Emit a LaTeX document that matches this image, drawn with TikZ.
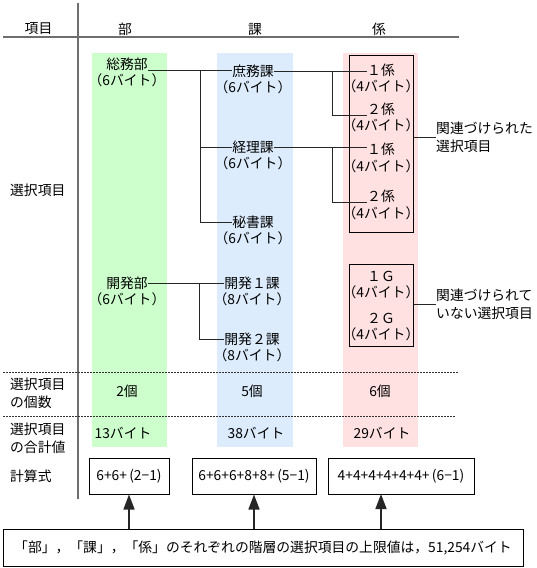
\documentclass[tikz,border=0pt]{standalone}
\usepackage{fontspec}
\setmainfont{Noto Sans CJK JP}
\usetikzlibrary{arrows.meta}
\definecolor{cgreen}{RGB}{204,255,204}
\definecolor{cblue}{RGB}{220,236,253}
\definecolor{cpink}{RGB}{255,225,225}
\definecolor{rulegray}{RGB}{110,110,110}
\begin{document}
\begin{tikzpicture}[x=1pt,y=-1pt,
  font=\fontsize{13.8}{16}\selectfont,
  every node/.style={inner sep=0pt},
  conn/.style={draw=black!85, line width=1pt},
  rulebar/.style={draw=rulegray, line width=2pt},
  dashrule/.style={draw=black!80, line width=0.8pt, dash pattern=on 2pt off 1pt},
  grpbox/.style={draw=black, line width=1pt, minimum width=64pt},
  fbox/.style={draw=black, line width=1pt, minimum height=36pt},
  arr/.style={draw=black!85, line width=1.5pt, -{Triangle[width=11pt,length=15pt]}},
  twol/.style={align=left, font=\fontsize{13.8}{18}\selectfont}]
\useasboundingbox (0,0) rectangle (537,568);
% columns
\fill[cgreen] (92,53) rectangle (167,447);
\fill[cblue] (217,53) rectangle (293,447);
\fill[cpink] (343,53) rectangle (418,447);
% rules
\draw[rulebar] (3,37) -- (459,37);
\draw[rulebar] (78,3) -- (78,499);
\draw[dashrule] (3,372) -- (459,372);
\draw[dashrule] (3,416) -- (455,416);
% headers
\node (hItem) at (38.5,29) {項目};
\node (hBu) at (125,29) {部};
\node (hKa) at (255,29) {課};
\node (hKakari) at (379,29) {係};
\node[anchor=west] (lSel) at (10,190) {選択項目};
\node[anchor=west, twol] (lCount) at (10,393.5) {選択項目\\の個数};
\node[anchor=west, twol] (lSum) at (10,438.5) {選択項目\\の合計値};
\node[anchor=west] (lCalc) at (10,476) {計算式};
% bu
\node (somu) at (127,64) {総務部};
\node (somuB) at (127,80) {（6バイト）};
\node (kaihatsu) at (127,283) {開発部};
\node (kaihatsuB) at (127,299) {（6バイト）};
% ka
\node (shomu) at (253,71) {庶務課};
\node (shomuB) at (253,87) {（6バイト）};
\node (keiri) at (253,147) {経理課};
\node (keiriB) at (253,163) {（6バイト）};
\node (hisho) at (253,222) {秘書課};
\node (hishoB) at (253,238) {（6バイト）};
\node (dev1) at (252,283) {開発１課};
\node (dev1B) at (252,299) {（8バイト）};
\node (dev2) at (252,339) {開発２課};
\node (dev2B) at (252,355) {（8バイト）};
% kakari
\node (k1) at (381,70) {１係};
\node (k1B) at (381,86) {（4バイト）};
\node (k2) at (381,109) {２係};
\node (k2B) at (381,125) {（4バイト）};
\node (k3) at (381,149) {１係};
\node (k3B) at (381,166) {（4バイト）};
\node (k4) at (381,196) {２係};
\node (k4B) at (381,213) {（4バイト）};
\node (g1) at (381,276) {１Ｇ};
\node (g1B) at (381,292) {（4バイト）};
\node (g2) at (381,318) {２Ｇ};
\node (g2B) at (381,334) {（4バイト）};
% group boxes
\node[grpbox, minimum height=177pt] (grp1) at (381,143.5) {};
\node[grpbox, minimum height=82pt] (grp2) at (381,305) {};
\node[anchor=west, twol] (lab1) at (436,137) {関連づけられた\\選択項目};
\node[anchor=west, twol] (lab2) at (436,304) {関連づけられて\\いない選択項目};
\draw[conn] (grp1.east |- lab1.west) -- (lab1.west);
\draw[conn] (grp2.east |- lab2.west) -- (lab2.west);
% connectors bu-ka
\coordinate (j1) at (200,71);
\draw[conn] (somu.south east) -- (shomu.west |- somu.south east);
\draw[conn] (j1) |- (keiri.west);
\draw[conn] (j1) |- (hisho.west);
\coordinate (j4) at (199,283);
\draw[conn] (kaihatsu.east) -- (dev1.west);
\draw[conn] (j4) |- (dev2.west);
% connectors ka-kakari
\coordinate (j2) at (332,71);
\draw[conn] (shomu.east) -- (k1.west |- shomu.east);
\draw[conn] (j2) |- (k2.south west);
\coordinate (j3) at (332,147);
\draw[conn] (keiri.east) -- (k3.west |- keiri.east);
\draw[conn] (j3) |- (k4.south west);
% counts and sums
\node (c1) at (127,391) {2個};
\node (c2) at (252,391) {5個};
\node (c3) at (380,391) {6個};
\node (s1) at (123,433) {13バイト};
\node (s2) at (256,433) {38バイト};
\node (s3) at (382,433) {29バイト};
% formula boxes
\node[fbox, minimum width=80pt] (f1) at (129,476) {6+6+\,(2−1)};
\node[fbox, minimum width=124pt] (f2) at (254,476) {6+6+6+8+8+\,(5−1)};
\node[fbox, minimum width=146pt] (f3) at (401,476) {4+4+4+4+4+4+\,(6−1)};
\node[draw=black, line width=1pt, minimum width=520pt, minimum height=37pt] (limit) at (263,548) {「部」，「課」，「係」のそれぞれの階層の選択項目の上限値は，51,254バイト};
\coordinate (a3) at (381,494);
\draw[arr] (limit.north -| f1.south) -- (f1.south);
\draw[arr] (limit.north -| f2.south) -- (f2.south);
\draw[arr] (limit.north -| a3) -- (a3);
\end{tikzpicture}
\end{document}
